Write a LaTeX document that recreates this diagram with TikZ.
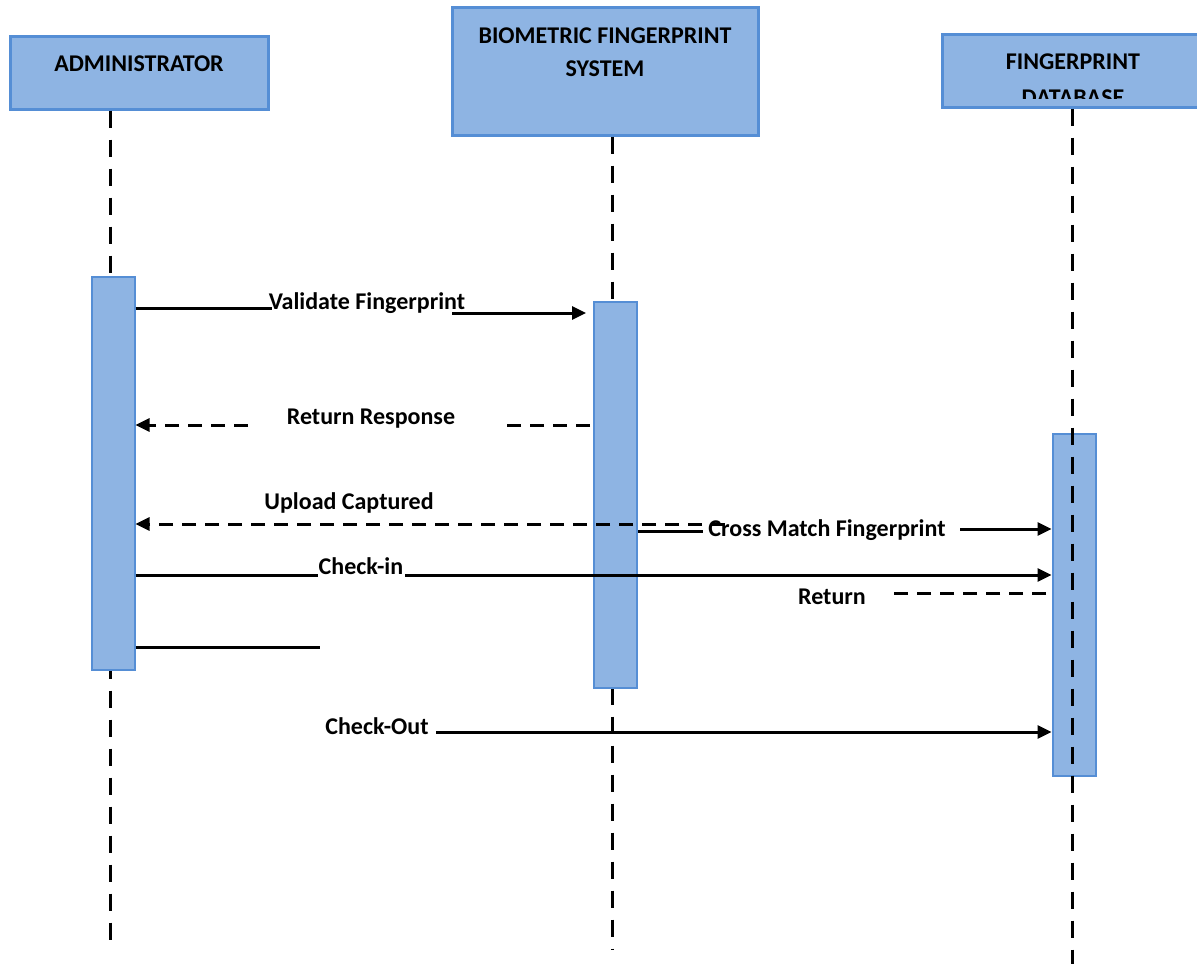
\documentclass[tikz,border=0pt]{standalone}
\usepackage{fontspec}
\setmainfont{Carlito}
\usetikzlibrary{arrows.meta}
\definecolor{boxfill}{HTML}{8EB4E3}
\definecolor{boxline}{HTML}{558ED5}
\begin{document}
\begin{tikzpicture}[x=1pt,y=-1pt,
  hdr/.style={draw=boxline, line width=3pt, fill=boxfill, inner sep=0pt},
  actbar/.style={draw=boxline, line width=2pt, fill=boxfill, inner sep=0pt, minimum width=43pt},
  lifeline/.style={line width=3pt, dash pattern=on 17pt off 12pt},
  lbl/.style={font=\fontsize{24}{29}\selectfont\bfseries, inner sep=0pt, align=center},
  msg/.style={line width=3pt},
  ret/.style={line width=3pt, dash pattern=on 14pt off 9pt},
  tip/.style={-{Triangle[length=14pt,width=13pt]}},
]
\useasboundingbox (0,0) rectangle (1197,964);
\clip (0,0) rectangle (1197,964);

% header boxes
\node[hdr, minimum width=258pt, minimum height=73pt] (admin) at (139,72.5) {};
\node[lbl] (adminlbl) at (139,64) {ADMINISTRATOR};
\node[hdr, minimum width=306pt, minimum height=128pt] (bfs) at (605,71) {};
\node[lbl] (bfslbl) at (605,52) {BIOMETRIC FINGERPRINT\\[4pt]SYSTEM};
\node[hdr, minimum width=262pt, minimum height=73pt] (db) at (1073,70.5) {};
\node[lbl] (dblbl1) at (1073,62) {FINGERPRINT};
\begin{scope}
  \clip (943.5,35.5) rectangle (1202,98);
  \node[lbl] (dblbl2) at (1073,98) {DATABASE};
\end{scope}

% lifeline end points
\coordinate (adminend) at (110,940);
\coordinate (bfsend) at (612,950);
\coordinate (dbend) at (1072,964);
\draw[lifeline] (admin.south -| adminend) -- (adminend);
\draw[lifeline] (bfs.south -| bfsend) -- (bfsend);

% activation bars
\node[actbar, minimum height=393pt] (abar) at (113,473.5) {};
\node[actbar, minimum height=386pt] (bbar) at (615.5,495) {};
\node[actbar, minimum height=342pt] (dbar) at (1074,605) {};

\draw[lifeline] (db.south -| dbend) -- (dbend);

% message coordinates
\coordinate (v1) at (272,308);
\coordinate (v2) at (452,313);
\coordinate (v3) at (586,313);
\coordinate (r1) at (590,425);
\coordinate (r2) at (503,425);
\coordinate (r3) at (248,425);
\coordinate (u1) at (725,524);
\coordinate (c1) at (703,531);
\coordinate (c2) at (960,529);
\coordinate (k1) at (318,575);
\coordinate (k2) at (405,575);
\coordinate (t1) at (1046,593);
\coordinate (t2) at (890,593);
\coordinate (s1) at (320,647);
\coordinate (o1) at (436,732);

% Validate Fingerprint
\draw[msg] (abar.east |- v1) -- (v1);
\node[lbl] (lvalid) at (367,303) {Validate Fingerprint};
\draw[msg, tip] (v2) -- (v3);

% Return Response
\draw[ret] (r1) -- (r2);
\node[lbl] (lresp) at (371,419) {Return Response};
\draw[ret, tip] (r3) -- (abar.east |- r3);

% Upload Captured
\node[lbl] (lupload) at (349,503) {Upload Captured};
\draw[ret, tip] (u1) -- (abar.east |- u1);

% Cross Match Fingerprint
\draw[msg] (bbar.east |- c1) -- (c1);
\node[lbl] (lcross) at (827,530) {Cross Match Fingerprint};
\draw[msg, tip] (c2) -- (dbar.west |- c2);

% Check-in
\draw[msg] (abar.east |- k1) -- (k1);
\node[lbl] (lcheckin) at (361,566) {Check-in};
\draw[msg, tip] (k2) -- (dbar.west |- k2);

% Return
\node[lbl] (lreturn) at (832,597) {Return};
\draw[ret] (t1) -- (t2);

% unlabeled line
\draw[msg] (abar.east |- s1) -- (s1);

% Check-Out
\node[lbl] (lcheckout) at (377,726) {Check-Out};
\draw[msg, tip] (o1) -- (dbar.west |- o1);
\end{tikzpicture}
\end{document}
